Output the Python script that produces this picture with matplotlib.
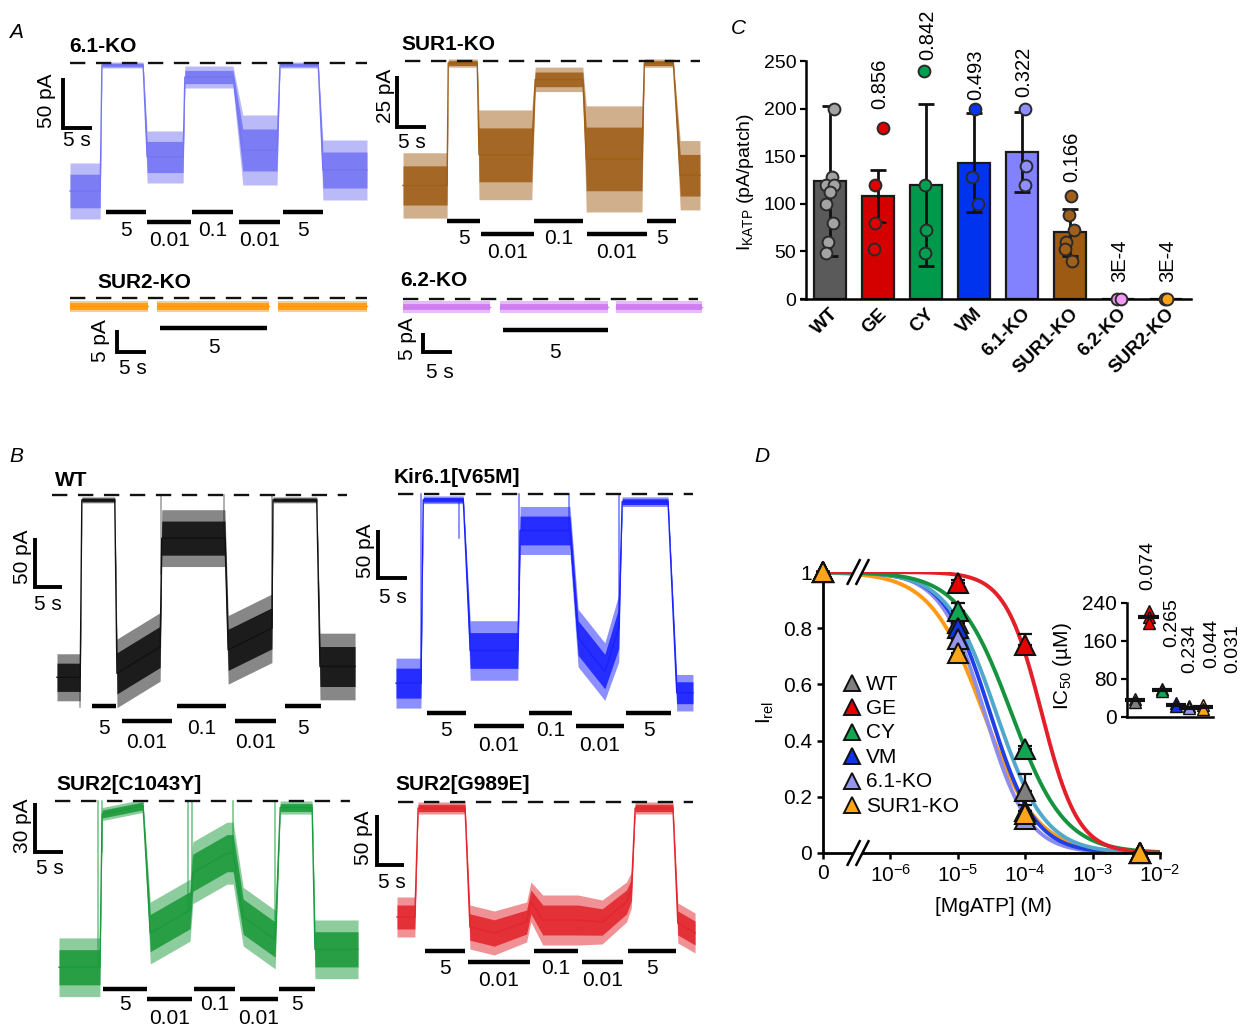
import numpy as np
import matplotlib
matplotlib.use('Agg')
import matplotlib.pyplot as plt

plt.rcParams['font.family'] = ['Liberation Sans', 'DejaVu Sans']
plt.rcParams['mathtext.fontset'] = 'custom'
plt.rcParams['mathtext.rm'] = 'Liberation Sans'
plt.rcParams['mathtext.it'] = 'Liberation Sans:italic'
plt.rcParams['mathtext.bf'] = 'Liberation Sans:bold'

W, H = 1253, 1034
nan = np.nan

# ================= DATA =================
# ---- Panel A / B current traces: knot times (s), mean current (pA), noise half-width (pA)
ko61_t = [0, 5.2, 5.5, 12.6, 13.3, 19.5, 19.8, 28.1, 29.8, 35.7, 36.2, 42.8, 43.6, 51.2]
ko61_I = [-128, -128, -2, -2, -94, -94, -14, -14, -87, -87, -2, -2, -107, -107]
ko61_n = [28, 28, 3, 3, 26, 26, 11, 11, 35, 35, 3, 3, 30, 30]

sur1_t = [0, 7.6, 7.8, 12.8, 13.1, 22.2, 22.8, 31.0, 31.6, 41.2, 41.6, 46.6, 47.8, 51.2]
sur1_I = [-61, -61, -1, -1, -46, -46, -9, -9, -48, -48, -1, -1, -56, -56]
sur1_n = [16, 16, 2, 2, 22, 22, 6, 6, 26, 26, 2, 2, 17, 17]

sur2ko_t = [0, 13.4, nan, 15.0, 34.3, nan, 35.9, 51.2]
sur2ko_I = [-1.9, -1.9, nan, -1.9, -1.9, nan, -1.9, -1.9]
sur2ko_n = [1.3, 1.3, nan, 1.3, 1.3, nan, 1.3, 1.3]

ko62_t = [0, 15.0, nan, 16.7, 35.3, nan, 36.7, 51.6]
ko62_I = [-2.1, -2.1, nan, -2.1, -2.1, nan, -2.1, -2.1]
ko62_n = [1.5, 1.5, nan, 1.5, 1.5, nan, 1.5, 1.5]

wt_t = [0, 4.3, 4.6, 10.7, 11.1, 19.1, 19.4, 31.1, 31.7, 39.8, 40.0, 48.1, 48.7, 55.2]
wt_I = [-186, -186, -5, -5, -182, -155, -44, -44, -158, -136, -5, -5, -175, -175]
wt_n = [24, 24, 3, 3, 35, 35, 29, 29, 35, 35, 3, 3, 34, 34]
wt_spk_t = [4.3, 19.3, 31.0, 39.8]
wt_spk_I = [-216, 0, 0, 0]

vm_t = [0, 4.3, 4.7, 11.6, 12.8, 21.0, 21.4, 30.0, 31.4, 36.0, 38.4, 39.0, 46.9, 48.4, 51.2]
vm_I = [-197, -197, -6, -6, -163, -163, -38, -38, -150, -185, -140, -8, -8, -207, -207]
vm_n = [26, 26, 4, 4, 31, 31, 25, 25, 30, 30, 35, 5, 5, 19, 19]
vm_spk_t = [4.3, 10.9, 21.2, 29.8, 38.4]
vm_spk_I = [0, -46, 0, 0, 0]

cy_t = [0, 7.3, 7.7, 15.0, 16.3, 23.4, 23.9, 30.0, 31.1, 32.9, 38.6, 39.5, 45.2, 45.7, 53.4]
cy_I = [-102, -102, -8, -3, -81, -67, -44, -32, -32, -71, -85, -4, -4, -91, -91]
cy_n = [18, 18, 4, 4, 19, 19, 19, 19, 19, 18, 18, 4, 4, 18, 18]
cy_spk_t = [7.0, 7.6, 23.0, 23.8, 31.1, 38.6]
cy_spk_I = [0, 0, 0, 0, 0, 0]

ge_t = [0, 3.3, 3.9, 12.6, 13.5, 18.0, 24.0, 24.8, 27.0, 33.5, 38.0, 42.5, 43.4, 44.1, 51.1, 52.0, 55.2]
ge_I = [-115, -115, -6, -6, -125, -131, -120, -100, -118, -118, -120, -100, -88, -6, -6, -121, -131]
ge_n = [20, 20, 6, 6, 22, 22, 20, 20, 25, 25, 22, 20, 18, 6, 6, 20, 20]

# ---- solution application bars: start (s), end (s), [MgATP] label (mM)
ko61_sol_s = [6.2, 13.3, 21.0, 29.1, 36.7]
ko61_sol_e = [13.1, 20.9, 28.1, 36.2, 43.6]
sur1_sol_s = [7.6, 13.4, 22.6, 31.7, 42.1]
sur1_sol_e = [13.3, 22.6, 31.0, 42.1, 47.1]
sur2ko_sol_s = [15.5]
sur2ko_sol_e = [34.0]
ko62_sol_s = [17.2]
ko62_sol_e = [35.3]
wt_sol_s = [6.5, 12.0, 22.2, 33.0, 42.2]
wt_sol_e = [10.9, 21.3, 31.3, 40.6, 48.9]
vm_sol_s = [5.3, 13.4, 22.9, 31.0, 39.7]
vm_sol_e = [12.1, 22.1, 30.3, 39.3, 47.4]
cy_sol_s = [7.9, 15.7, 24.1, 32.3, 39.3]
cy_sol_e = [15.7, 23.8, 31.4, 39.1, 45.7]
ge_sol_s = [5.2, 13.1, 25.4, 34.3, 42.8]
ge_sol_e = [12.6, 24.6, 33.5, 41.9, 51.7]
sol5_labels = ['5', '0.01', '0.1', '0.01', '5']
sol1_labels = ['5']

# ---- Panel C
c_groups = ['WT', 'GE', 'CY', 'VM', '6.1-KO', 'SUR1-KO', '6.2-KO', 'SUR2-KO']
c_mean = [124, 108, 120, 143, 154, 70, 0, 0]
c_sd = [79, 27, 85, 52, 42, 25, 0, 0]
c_points = [[200, 128, 120, 120, 112, 100, 80, 60, 48],
            [180, 120, 80, 52],
            [240, 120, 72, 48],
            [200, 128, 100],
            [200, 140, 120],
            [108, 88, 72, 60, 52, 40],
            [0, 0],
            [0, 0]]
c_pvals = ['', '0.856', '0.842', '0.493', '0.322', '0.166', '3E-4', '3E-4']
c_pval_y = [0, 200, 251, 209, 212, 123, 18, 18]

# ---- Panel D
d_groups = ['WT', 'GE', 'CY', 'VM', '6.1-KO', 'SUR1-KO']
d_conc = [0, 1e-5, 1e-4, 5e-3]
d_irel = [[1, 0.82, 0.22, 0.0],
          [1, 0.96, 0.74, 0.0],
          [1, 0.86, 0.37, 0.0],
          [1, 0.80, 0.15, 0.0],
          [1, 0.76, 0.12, 0.0],
          [1, 0.71, 0.14, 0.0]]
d_sem = [[0, 0.02, 0.06, 0],
         [0, 0.01, 0.04, 0],
         [0, 0.03, 0.01, 0],
         [0, 0.02, 0.02, 0],
         [0, 0.02, 0.01, 0],
         [0, 0.02, 0.01, 0]]
d_fit_ic50 = [37e-6, 175e-6, 62e-6, 30e-6, 25e-6, 24e-6]
d_fit_h = [1.2, 1.6, 1.1, 1.3, 1.35, 1.1]

ic50_points = [[38, 31], [224, 210, 197], [60, 54], [30, 24], [24, 18], [25, 17]]
ic50_mean = [35, 210, 57, 26, 20, 21]
ic50_pvals = ['0.074', '0.265', '0.234', '0.044', '0.031']

# ================= STYLE / LAYOUT =================
fig = plt.figure(figsize=(W / 100, H / 100), dpi=100)


def ax_px(l, t, r, b, **kw):
    return fig.add_axes([l / W, 1 - b / H, (r - l) / W, (b - t) / H], **kw)


FS_SOL = 15
traces = [
    dict(name='6.1-KO', t=ko61_t, I=ko61_I, n=ko61_n, col='#7676f4', ox=70, oy=63, pps=5.8, ppa=1.0,
         dash=(70, 367), scale=50, corner=(63, 128), vlab=(47, 101), slab=(77, 141), nm=(69, 47),
         sol_s=ko61_sol_s, sol_e=ko61_sol_e, sol_l=sol5_labels, rows=(212, 222), loff=(18, 18)),
    dict(name='SUR1-KO', t=sur1_t, I=sur1_I, n=sur1_n, col='#a0601a', ox=403, oy=61, pps=5.8, ppa=2.04,
         dash=(405, 700), scale=25, corner=(397, 127), vlab=(386, 96), slab=(412, 143), nm=(401, 45),
         sol_s=sur1_sol_s, sol_e=sur1_sol_e, sol_l=sol5_labels, rows=(221, 234), loff=(17, 18)),
    dict(name='SUR2-KO', t=sur2ko_t, I=sur2ko_I, n=sur2ko_n, col='#ff9a10', ox=70, oy=298, pps=5.8, ppa=4.4,
         dash=(70, 367), scale=5, corner=(117, 352), vlab=(101, 341), slab=(133, 369), nm=(97, 283),
         sol_s=sur2ko_sol_s, sol_e=sur2ko_sol_e, sol_l=sol1_labels, rows=(328, 328), loff=(20, 20)),
    dict(name='6.2-KO', t=ko62_t, I=ko62_I, n=ko62_n, col='#cf7bf0', ox=403, oy=299, pps=5.8, ppa=3.8,
         dash=(403, 698), scale=5, corner=(423, 352), vlab=(408, 339), slab=(440, 372), nm=(400, 280),
         sol_s=ko62_sol_s, sol_e=ko62_sol_e, sol_l=sol1_labels, rows=(330, 330), loff=(23, 23)),
    dict(name='WT', t=wt_t, I=wt_I, n=wt_n, col='#111111', ox=57, oy=495, pps=5.4, ppa=0.98,
         dash=(52, 347), scale=50, corner=(35, 587), vlab=(22, 557), slab=(48, 605), nm=(55, 481),
         sol_s=wt_sol_s, sol_e=wt_sol_e, sol_l=sol5_labels, rows=(706, 721), loff=(22, 21),
         spk_t=wt_spk_t, spk_I=wt_spk_I, spk_col='#9a9a9a'),
    dict(name='Kir6.1[V65M]', t=vm_t, I=vm_I, n=vm_n, col='#1a22ff', ox=396, oy=494, pps=5.8, ppa=0.96,
         dash=(398, 693), scale=50, corner=(378, 578), vlab=(365, 551), slab=(393, 597), nm=(394, 477),
         sol_s=vm_sol_s, sol_e=vm_sol_e, sol_l=sol5_labels, rows=(713, 726), loff=(17, 19),
         spk_t=vm_spk_t, spk_I=vm_spk_I, spk_col='#6f74ff'),
    dict(name='SUR2[C1043Y]', t=cy_t, I=cy_I, n=cy_n, col='#1d9a3c', ox=59, oy=801, pps=5.6, ppa=1.63,
         dash=(55, 350), scale=30, corner=(35, 852), vlab=(22, 826), slab=(50, 868), nm=(56, 785),
         sol_s=cy_sol_s, sol_e=cy_sol_e, sol_l=sol5_labels, rows=(989, 999), loff=(16, 19),
         spk_t=cy_spk_t, spk_I=cy_spk_I, spk_col='#6cc283'),
    dict(name='SUR2[G989E]', t=ge_t, I=ge_I, n=ge_n, col='#e3262d', ox=397, oy=802, pps=5.4, ppa=1.0,
         dash=(398, 693), scale=50, corner=(377, 865), vlab=(363, 838), slab=(392, 883), nm=(395, 785),
         sol_s=ge_sol_s, sol_e=ge_sol_e, sol_l=sol5_labels, rows=(951, 962), loff=(18, 18)),
]

for tr in traces:
    ax = fig.add_axes([0, 0, 1, 1])
    ax.axis('off')
    ox, oy, pps, ppa = tr['ox'], tr['oy'], tr['pps'], tr['ppa']
    ax.set_xlim((0 - ox) / pps, (W - ox) / pps)
    ax.set_ylim((oy - H) / ppa, oy / ppa)
    X = lambda px: (px - ox) / pps
    Y = lambda py: (oy - py) / ppa
    t = np.array(tr['t'], float)
    I = np.array(tr['I'], float)
    n = np.array(tr['n'], float)
    c = tr['col']
    # dashed zero-current line
    ax.plot([X(tr['dash'][0]), X(tr['dash'][1])], [0, 0], color='#111111', lw=1.7,
            ls=(0, (6.5, 4.5)), zorder=5)
    # switching artefacts
    if 'spk_t' in tr:
        for ts, pk in zip(tr['spk_t'], tr['spk_I']):
            base = np.interp(ts, t[~np.isnan(t)], I[~np.isnan(I)])
            ax.plot([ts, ts], [base, pk], color=tr['spk_col'], lw=1.1, zorder=2)
    # noisy trace drawn as envelope bands
    ax.fill_between(t, I - n, I + n, color=c, alpha=0.5, lw=0, zorder=3)
    ax.fill_between(t, I - 0.6 * n, I + 0.6 * n, color=c, alpha=0.9, lw=0, zorder=3)
    ax.plot(t, I, color=c, lw=1.0, zorder=3)
    # scale bar
    cx, cy = tr['corner']
    ax.plot([X(cx), X(cx), X(cx) + 5], [Y(cy) + tr['scale'], Y(cy), Y(cy)], color='black',
            lw=2.8, solid_joinstyle='miter', solid_capstyle='butt', zorder=4)
    ax.text(X(tr['vlab'][0]), Y(tr['vlab'][1]), f"{tr['scale']} pA", rotation=90,
            ha='center', va='center', fontsize=15)
    ax.text(X(tr['slab'][0]), Y(tr['slab'][1]), '5 s', ha='center', va='center', fontsize=15)
    # name
    ax.text(X(tr['nm'][0]), Y(tr['nm'][1]), tr['name'], ha='left', va='center',
            fontsize=15, fontweight='bold')
    # solution bars
    for k, (s, e, lab) in enumerate(zip(tr['sol_s'], tr['sol_e'], tr['sol_l'])):
        row = k % 2
        ypx = tr['rows'][row]
        ax.plot([s, e], [Y(ypx), Y(ypx)], color='black', lw=3.2, solid_capstyle='butt')
        ax.text((s + e) / 2, Y(ypx + tr['loff'][row]), lab, ha='center', va='center',
                fontsize=FS_SOL)

# ================= Panel C =================
c_bar_col = ['#5a5a5a', '#d40000', '#00994c', '#0033ee', '#8282ff', '#9c5a12', '#e58ff0', '#ffa31a']
c_pt_col = ['#a3a3a3', '#e00000', '#00a050', '#0a35f0', '#8f8fff', '#a0601c', '#f19cf7', '#ffa31a']
c_jit = [[0.08, 0.05, -0.08, 0.08, -0.01, -0.08, 0.07, -0.05, -0.08],
         [0.10, -0.07, -0.07, -0.08],
         [-0.05, -0.03, 0.0, -0.03],
         [0.03, -0.05, 0.09],
         [0.06, 0.08, 0.06],
         [0.02, -0.03, 0.09, -0.09, -0.10, 0.05],
         [-0.03, 0.07],
         [-0.03, 0.03]]

axC = ax_px(806, 61, 1191, 299)
axC.set_xlim(-0.5, 7.52)
axC.set_ylim(0, 250)
xc = np.arange(len(c_groups))
axC.bar(xc, c_mean, width=0.67, color=c_bar_col, edgecolor='#1a1a1a', linewidth=1.6, zorder=2)
for i in range(len(c_groups)):
    if c_sd[i] > 0:
        axC.errorbar(xc[i], c_mean[i], yerr=c_sd[i], color='#111111', lw=2.0, capsize=6,
                     capthick=2.0, zorder=3)
    pts = np.array(c_points[i], float)
    axC.plot(xc[i] + np.array(c_jit[i]), pts, 'o', ms=8.5, mfc=c_pt_col[i], mec='#2a2a2a',
             mew=1.4, zorder=4, clip_on=False)
    if c_pvals[i]:
        axC.text(xc[i] + 0.03, c_pval_y[i], c_pvals[i], rotation=90, ha='center', va='bottom',
                 fontsize=14.5)
    axC.text(xc[i] + 0.12, -13, c_groups[i], rotation=45, ha='right', va='center',
             rotation_mode='anchor', fontsize=13.5, fontweight='bold')
for s in ['top', 'right']:
    axC.spines[s].set_visible(False)
axC.spines['left'].set_linewidth(1.8)
axC.spines['bottom'].set_linewidth(1.8)
axC.spines['bottom'].set_bounds(-0.6, 7.52)
axC.set_xticks([])
axC.set_yticks([0, 50, 100, 150, 200, 250])
axC.tick_params(axis='y', length=4, width=1.6, labelsize=14, pad=3)
axC.patch.set_alpha(0)

# ================= Panel D =================
d_tri_col = ['#7f7f7f', '#e60000', '#12a552', '#1035e8', '#9696f2', '#ffa51a']
d_curve_col = ['#52a8cc', '#e3202a', '#16933e', '#2040e6', '#8a8cf0', '#ff9a14']
axD = ax_px(823, 572, 1160, 853)
axD.set_xlim(-7, -2)
axD.set_ylim(0, 1)
xs = np.linspace(-7, -2, 500)
order = [5, 4, 3, 0, 2, 1]
for g in order:
    yfit = 1.0 / (1.0 + (10 ** xs / d_fit_ic50[g]) ** d_fit_h[g])
    axD.plot(xs, yfit, color=d_curve_col[g], lw=2.8, zorder=2)
conc = np.array(d_conc)
xd = np.where(conc > 0, np.log10(np.where(conc > 0, conc, 1)), -7)
for g in range(len(d_groups)):
    y = np.array(d_irel[g])
    e = np.array(d_sem[g])
    axD.errorbar(xd, y, yerr=[np.zeros_like(e), e], fmt='none', ecolor='#111111', elinewidth=1.6,
                 capsize=5, capthick=1.6, zorder=3, clip_on=False)
    axD.plot(xd, y, '^', ms=15, mfc=d_tri_col[g], mec='#111111', mew=1.5, zorder=4 + g,
             clip_on=False)
for s in ['top', 'right']:
    axD.spines[s].set_visible(False)
axD.spines['left'].set_linewidth(2.0)
axD.spines['bottom'].set_linewidth(2.0)
axD.set_xticks([-7, -6, -5, -4, -3, -2])
axD.set_xticklabels(['0', r'$10^{-6}$', r'$10^{-5}$', r'$10^{-4}$', r'$10^{-3}$', r'$10^{-2}$'])
axD.set_yticks([0, 0.2, 0.4, 0.6, 0.8, 1])
axD.set_yticklabels(['0', '0.2', '0.4', '0.6', '0.8', '1'])
axD.tick_params(length=4, width=1.8, labelsize=15, pad=4)
axD.patch.set_alpha(0)
# axis break marks
for yb in (0.0, 1.0):
    bx = -6.48
    dx, dy, sep = 0.09, 0.042, 0.065
    poly_x = [bx - sep - dx, bx - sep + dx, bx + sep + dx, bx + sep - dx]
    poly_y = [yb - dy, yb + dy, yb + dy, yb - dy]
    axD.fill(poly_x, poly_y, color='white', zorder=20, clip_on=False, lw=0)
    for sx in (-sep, sep):
        axD.plot([bx + sx - dx, bx + sx + dx], [yb - dy, yb + dy], color='black', lw=1.8,
                 zorder=21, clip_on=False)

# inset IC50
axI = ax_px(1127, 603, 1213, 717)
axI.set_xlim(-0.59, 5.74)
axI.set_ylim(0, 240)
for g in range(len(d_groups)):
    pts = np.array(ic50_points[g], float)
    axI.plot(np.full(len(pts), g), pts, '^', ms=8.5, mfc=d_tri_col[g], mec='#111111', mew=1.0,
             zorder=3, clip_on=False)
    axI.plot([g - 0.75, g + 0.75], [ic50_mean[g], ic50_mean[g]], color='#111111', lw=3.0,
             solid_capstyle='butt', zorder=4, clip_on=False)
ic50_px = [(0.96, 267), (2.7, 147), (4.0, 93), (5.66, 103), (7.2, 93)]
for lab, (px_, py_) in zip(ic50_pvals, ic50_px):
    axI.text(px_, py_, lab, rotation=90, ha='center', va='bottom', fontsize=14)
for s in ['top', 'right']:
    axI.spines[s].set_visible(False)
axI.spines['left'].set_linewidth(1.8)
axI.spines['bottom'].set_linewidth(1.8)
axI.set_xticks([])
axI.set_yticks([0, 80, 160, 240])
axI.tick_params(axis='y', length=4, width=1.6, labelsize=15, pad=3)
axI.patch.set_alpha(0)

# ================= overlay text =================
ov = fig.add_axes([0, 0, 1, 1], zorder=50)
ov.set_xlim(0, W)
ov.set_ylim(H, 0)
ov.axis('off')
for lab, (x, y) in zip('ABCD', [(16, 32), (16, 456), (738, 29), (762, 457)]):
    ov.text(x, y, lab, fontsize=15, fontstyle='italic', ha='center', va='center')
ov.text(746, 182, r'I$_{\mathregular{KATP}}$ (pA/patch)', rotation=90, ha='center', va='center',
        fontsize=14)
ov.text(765, 712, r'I$_{\mathregular{rel}}$', rotation=90, ha='center', va='center', fontsize=15)
ov.text(993, 907, '[MgATP] (M)', ha='center', va='center', fontsize=15)
ov.text(1062, 666, r'IC$_{\mathregular{50}}$ (µM)', rotation=90, ha='center', va='center',
        fontsize=15)
for g, name in enumerate(d_groups):
    yy = 683 + 24.4 * g
    ov.plot([852], [yy], '^', ms=12, mfc=d_tri_col[g], mec='#111111', mew=1.4)
    ov.text(866, yy + 1, name, ha='left', va='center', fontsize=15)

fig.savefig('out.png', dpi=100)
